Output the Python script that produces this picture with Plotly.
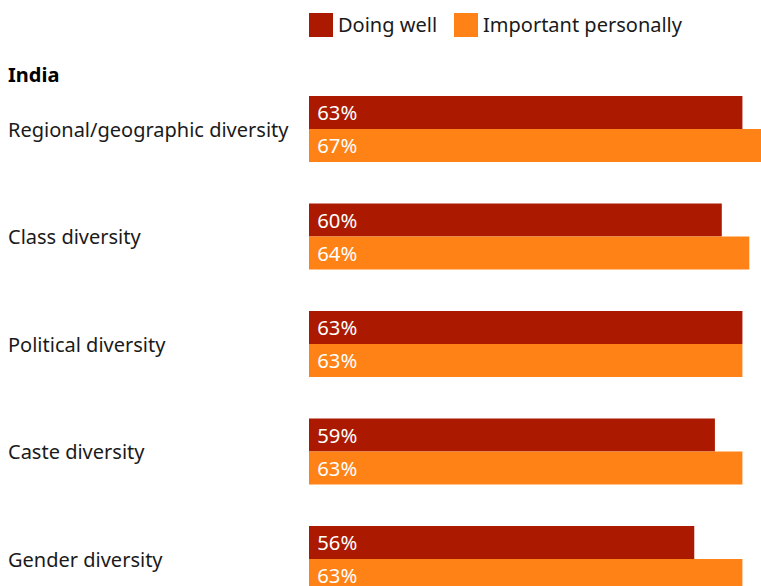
import plotly.graph_objects as go

# Survey results: India, share saying each kind of diversity is going well / matters personally
categories = [
    "Regional/geographic diversity",
    "Class diversity",
    "Political diversity",
    "Caste diversity",
    "Gender diversity",
]
doing_well = [63, 60, 63, 59, 56]
important_personally = [67, 64, 63, 63, 63]
series_names = ["Doing well", "Important personally"]
group_title = "India"

DARK = "#ab1a00"
ORANGE = "#ff8217"
TEXT = "#1a1a1a"
FONT = "Noto Sans"

W, H = 761, 586
LEFT = 309  # left edge of the plotting area in pixels
PLOT_W = W - LEFT

fig = go.Figure()
for name, vals, col in [
    (series_names[0], doing_well, DARK),
    (series_names[1], important_personally, ORANGE),
]:
    fig.add_trace(go.Bar(
        y=categories,
        x=vals,
        orientation="h",
        name=name,
        marker=dict(color=col, line=dict(width=0)),
        text=[f"\u00a0{v}%" for v in vals],
        textposition="inside",
        insidetextanchor="start",
        textfont=dict(color="#ffffff", size=21, family=FONT),
        cliponaxis=True,
        showlegend=False,
    ))

def px_x(px):
    return (px - LEFT) / PLOT_W

def px_y(py):
    return 1 - py / H

annotations = []
shapes = []

# category labels, left aligned at the page edge
for i, cat in enumerate(categories):
    annotations.append(dict(
        x=px_x(6), xref="paper", xanchor="left",
        y=cat, yref="y", yanchor="middle",
        text=cat, showarrow=False,
        font=dict(size=20, color=TEXT, family=FONT),
    ))

annotations.append(dict(
    x=px_x(6), xref="paper", xanchor="left",
    y=px_y(74), yref="paper", yanchor="middle",
    text=f"<b>{group_title}</b>", showarrow=False,
    font=dict(size=20, color="#000000", family=FONT),
))

# legend drawn as swatches + labels
legend_items = [(series_names[0], DARK, 309), (series_names[1], ORANGE, 454)]
for name, col, x0 in legend_items:
    shapes.append(dict(
        type="rect", xref="paper", yref="paper",
        x0=px_x(x0), x1=px_x(x0 + 24), y0=px_y(37), y1=px_y(13),
        fillcolor=col, line=dict(width=0),
    ))
    annotations.append(dict(
        x=px_x(x0 + 27), xref="paper", xanchor="left",
        y=px_y(25), yref="paper", yanchor="middle",
        text=name, showarrow=False,
        font=dict(size=20, color=TEXT, family=FONT),
    ))

fig.update_layout(
    width=W, height=H,
    margin=dict(l=LEFT, r=0, t=0, b=0),
    paper_bgcolor="white", plot_bgcolor="white",
    barmode="group", bargap=0.386, bargroupgap=0,
    xaxis=dict(range=[0, 65.7], visible=False, fixedrange=True),
    yaxis=dict(
        type="category", categoryorder="array", categoryarray=categories,
        range=[4.251, -1.2], showticklabels=False, showgrid=False,
        zeroline=False, fixedrange=True,
    ),
    uniformtext=dict(minsize=10, mode="show"),
    annotations=annotations,
    shapes=shapes,
    font=dict(family=FONT),
)

fig.write_html("out.html")
